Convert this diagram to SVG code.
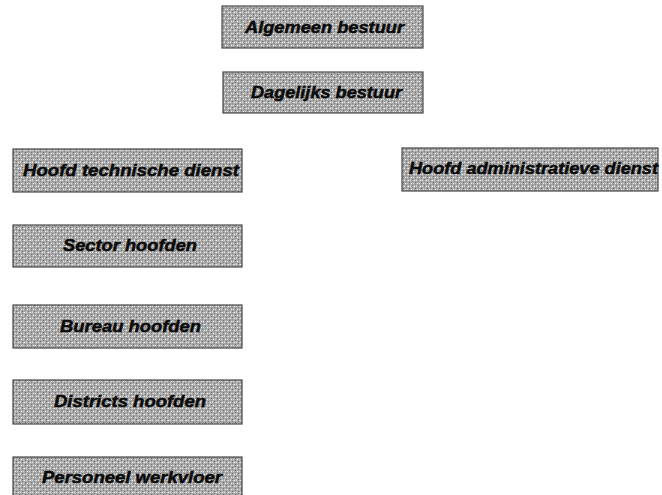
<svg xmlns="http://www.w3.org/2000/svg" width="662" height="495" viewBox="0 0 662 495">
  <defs>
    <!-- halftone screen used as the box fill -->
    <pattern id="screen" width="6" height="6" patternUnits="userSpaceOnUse">
      <rect width="6" height="6" fill="#a8a8a8"/>
      <rect x="0" y="0" width="1" height="1" fill="#f4f4f4"/>
      <rect x="3" y="3" width="1" height="1" fill="#f4f4f4"/>
      <rect x="2" y="0" width="1" height="1" fill="#dadada"/>
      <rect x="5" y="3" width="1" height="1" fill="#dadada"/>
      <rect x="1" y="2" width="1" height="1" fill="#6a6a6a"/>
      <rect x="4" y="5" width="1" height="1" fill="#6a6a6a"/>
      <rect x="4" y="1" width="1" height="1" fill="#888888"/>
      <rect x="1" y="4" width="1" height="1" fill="#888888"/>
      <rect x="5" y="0" width="1" height="1" fill="#cacaca"/>
      <rect x="2" y="5" width="1" height="1" fill="#cacaca"/>
    </pattern>
  </defs>
  <style>
    .box { fill: url(#screen); stroke: #4a4a4a; stroke-width: 1.2; }
    .lbl { font-family: "Liberation Sans", Arial, sans-serif; font-weight: bold; font-style: italic; font-size: 16.5px; fill: #0a0a0a; stroke: #0a0a0a; stroke-width: 0.5; text-anchor: middle; }
  </style>
  <rect width="662" height="495" fill="#ffffff"/>

  <g id="connectors"/>

  <g id="algemeen-bestuur">
    <rect class="box" x="222" y="6" width="201" height="42"/>
    <text class="lbl" x="324.5" y="33" textLength="159" lengthAdjust="spacingAndGlyphs">Algemeen bestuur</text>
  </g>

  <g id="dagelijks-bestuur">
    <rect class="box" x="223" y="72" width="200" height="41"/>
    <text class="lbl" x="326.5" y="98" textLength="151" lengthAdjust="spacingAndGlyphs">Dagelijks bestuur</text>
  </g>

  <g id="hoofd-technische-dienst">
    <rect class="box" x="13" y="149" width="229" height="43"/>
    <text class="lbl" x="131" y="176" textLength="216" lengthAdjust="spacingAndGlyphs">Hoofd technische dienst</text>
  </g>

  <g id="hoofd-administratieve-dienst">
    <rect class="box" x="402" y="148" width="256" height="43"/>
    <text class="lbl" x="533.5" y="174" textLength="249" lengthAdjust="spacingAndGlyphs">Hoofd administratieve dienst</text>
  </g>

  <g id="sector-hoofden">
    <rect class="box" x="13" y="225" width="229" height="42"/>
    <text class="lbl" x="130" y="251" textLength="134" lengthAdjust="spacingAndGlyphs">Sector hoofden</text>
  </g>

  <g id="bureau-hoofden">
    <rect class="box" x="13" y="305" width="229" height="43"/>
    <text class="lbl" x="130.5" y="332" textLength="141" lengthAdjust="spacingAndGlyphs">Bureau hoofden</text>
  </g>

  <g id="districts-hoofden">
    <rect class="box" x="13" y="380" width="229" height="44"/>
    <text class="lbl" x="130" y="407" textLength="152" lengthAdjust="spacingAndGlyphs">Districts hoofden</text>
  </g>

  <g id="personeel-werkvloer">
    <rect class="box" x="13" y="457" width="229" height="44"/>
    <text class="lbl" x="132" y="483" textLength="180" lengthAdjust="spacingAndGlyphs">Personeel werkvloer</text>
  </g>
</svg>
